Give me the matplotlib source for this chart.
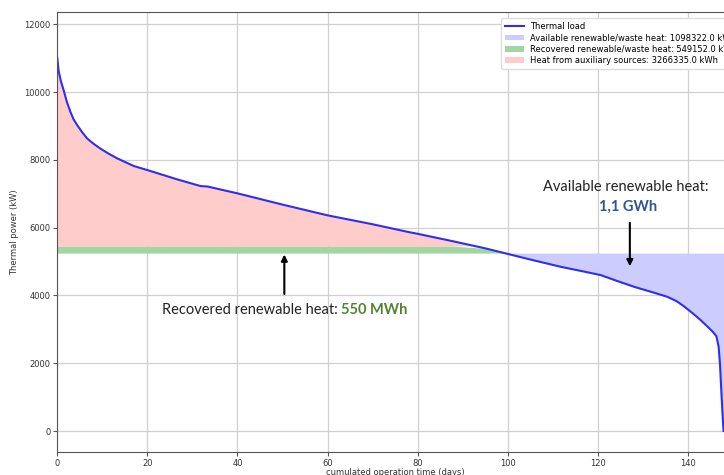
import matplotlib
matplotlib.use("Agg")
import matplotlib.pyplot as plt
import numpy as np

# load duration curve
days = [0, 0.3, 0.8, 1.4, 2.1, 2.9, 3.6, 4.4, 5.5, 6.6, 8, 9.5, 11.3, 13.3, 17, 20,
        26.6, 31.8, 33.3, 40, 50, 60, 70, 78, 79.5, 87.3, 95, 99.5, 105, 111.7,
        116, 120.6, 124, 128, 132, 135.4, 137.5, 139.1, 141, 142.8, 144.5, 145.5,
        146.3, 146.8, 147.1, 147.4, 147.7, 147.9]
load = [11000, 10620, 10320, 10060, 9720, 9420, 9200, 9027, 8820, 8634, 8480, 8339,
        8190, 8044, 7817, 7699, 7425, 7227, 7215, 7012, 6680, 6363, 6100, 5870,
        5832, 5614, 5390, 5242, 5060, 4847, 4730, 4602, 4440, 4257, 4100, 3962,
        3830, 3680, 3480, 3274, 3060, 2930, 2800, 2500, 2000, 1200, 450, 0]

avail_level = 5250      # available renewable/waste power (kW)
recovered_top = 5460    # top of recovered band (kW)

labels = ["Thermal load",
          "Available renewable/waste heat: 1098322.0 kWh",
          "Recovered renewable/waste heat: 549152.0 kWh",
          "Heat from auxiliary sources: 3266335.0 kWh"]

x = np.array(days)
y = np.array(load)

W, H = 724, 475
fig = plt.figure(figsize=(W / 100, H / 100), dpi=100)
# axes runs a bit past the right edge, like the cropped screenshot
ax = fig.add_axes([57.3 / W, (H - 451.7) / H, (733 - 57.3) / W, (451.7 - 12.3) / H])

ax.fill_between(x, y, avail_level, where=y < avail_level, interpolate=True,
                color="#ccccff", lw=0, label=labels[1])
ax.fill_between(x, avail_level, np.minimum(y, recovered_top), where=y > avail_level,
                interpolate=True, color="#a3d5a3", lw=0, label=labels[2])
ax.fill_between(x, recovered_top, y, where=y > recovered_top, interpolate=True,
                color="#ffcccc", lw=0, label=labels[3])
ax.plot(x, y, color="#2e2ef0", lw=1.5, label=labels[0])

ax.set_xlim(0, 150)
ax.set_ylim(-610, 12354)
ax.set_xticks(np.arange(0, 141, 20))
ax.set_yticks(np.arange(0, 12001, 2000))
ax.grid(True, color="#d0d0d0", lw=0.9)
ax.set_axisbelow(True)
ax.tick_params(labelsize=6, length=3, pad=2, color="#555555", labelcolor="#333333")
for s in ax.spines.values():
    s.set_color("#555555")
ax.spines["right"].set_visible(False)
ax.set_xlabel("cumulated operation time (days)", fontsize=6, color="#333333", labelpad=0)
ax.set_ylabel("Thermal power (kW)", fontsize=6, color="#333333", labelpad=4)

h, l = ax.get_legend_handles_labels()
order = [3, 0, 1, 2]
fig.legend([h[i] for i in order], [l[i] for i in order], loc="upper left",
           bbox_to_anchor=(497 / W, 1 - 14 / H), fontsize=6, labelspacing=0.25,
           handlelength=2.2, borderpad=0.5, framealpha=1, edgecolor="#dddddd")

# annotations
ax.annotate("", xy=(50.4, 5290), xytext=(50.4, 3960),
            arrowprops=dict(arrowstyle="-|>", color="black", lw=1.5, mutation_scale=9))
ax.text(63, 3570, "Recovered renewable heat: ", ha="right", va="center",
        fontsize=10.5, family="Lato", color="#222222")
ax.text(63, 3570, "550 MWh", ha="left", va="center", fontsize=10.5,
        family="Lato", fontweight="bold", color="#548235")

ax.annotate("", xy=(127.1, 4780), xytext=(127.1, 6224),
            arrowprops=dict(arrowstyle="-|>", color="black", lw=1.5, mutation_scale=9))
ax.text(126.2, 7190, "Available renewable heat:", ha="center", va="center",
        fontsize=10.5, family="Lato", color="#222222")
ax.text(126.8, 6617, "1,1 GWh", ha="center", va="center", fontsize=10.5,
        family="Lato", fontweight="bold", color="#2f5597")

fig.savefig("out.png", dpi=100)
